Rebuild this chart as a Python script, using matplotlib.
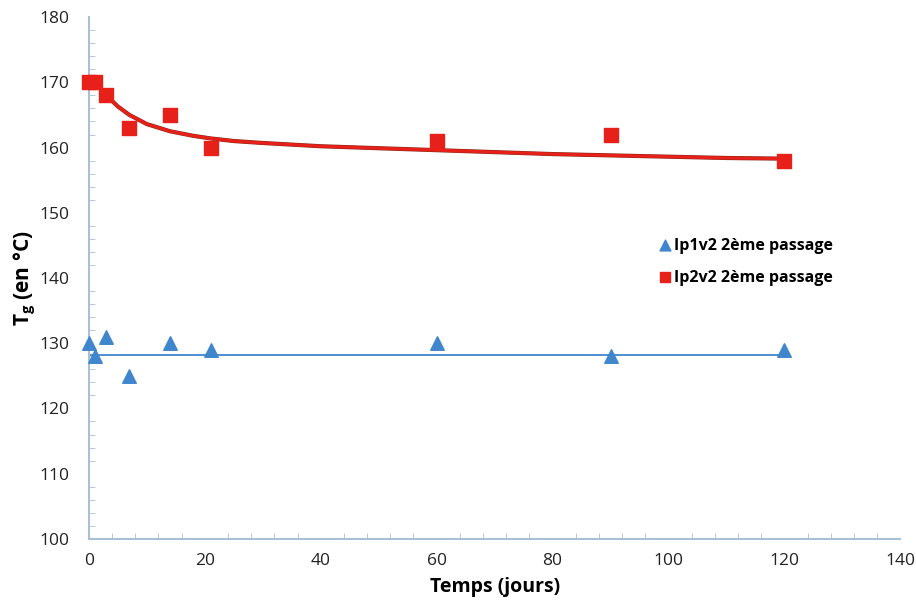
import numpy as np
import matplotlib.pyplot as plt
from matplotlib.ticker import MultipleLocator

# measured points
days = [0, 1, 3, 7, 14, 21, 60, 90, 120]
tg_ip1v2 = [130, 128, 131, 125, 130, 129, 130, 128, 129]
tg_ip2v2 = [170, 170, 168, 163, 165, 160, 161, 162, 158]

# trend lines
trend1_x = [0, 120]
trend1_y = [128.2, 128.2]
trend2_x = [1, 2, 3, 5, 7, 10, 14, 18, 21, 25, 30, 40, 50, 60, 70, 80, 90, 100, 110, 120]
trend2_y = [170.0, 169.0, 168.0, 166.3, 165.0, 163.6, 162.5, 161.8, 161.4, 161.0, 160.7,
            160.2, 159.9, 159.6, 159.3, 159.0, 158.8, 158.6, 158.4, 158.3]

labels = ['Ip1v2 2ème passage', 'Ip2v2 2ème passage']

plt.rcParams['font.family'] = ['Open Sans', 'DejaVu Sans']
plt.rcParams['mathtext.fontset'] = 'custom'
plt.rcParams['mathtext.rm'] = 'Open Sans:bold'
plt.rcParams['mathtext.bf'] = 'Open Sans:bold'

axis_col = '#a9bfd3'
blue = '#3f86cc'
red = '#e8201a'

fig = plt.figure(figsize=(9.16, 6.11), dpi=100)
ax = fig.add_axes([0.097, 0.118, 0.886, 0.854])

ax.plot(trend1_x, trend1_y, color=blue, lw=1.3, zorder=2)
ax.plot(trend2_x, trend2_y, color='#8a2a18', lw=3.0, zorder=2, solid_capstyle='round')
ax.plot(trend2_x, trend2_y, color=red, lw=2.2, zorder=3, solid_capstyle='round')

ax.scatter(days, tg_ip1v2, marker='^', s=95, color=blue, label=labels[0],
           zorder=4, clip_on=False)
ax.scatter(days, tg_ip2v2, marker='s', s=95, color=red, label=labels[1],
           zorder=4, clip_on=False)

ax.set_xlim(0, 140)
ax.set_ylim(100, 180)
ax.xaxis.set_major_locator(MultipleLocator(20))
ax.xaxis.set_minor_locator(MultipleLocator(4))
ax.yaxis.set_major_locator(MultipleLocator(10))
ax.yaxis.set_minor_locator(MultipleLocator(2))

for s in ['top', 'right']:
    ax.spines[s].set_visible(False)
for s in ['left', 'bottom']:
    ax.spines[s].set_color(axis_col)
    ax.spines[s].set_linewidth(1.5)

ax.tick_params(which='major', direction='in', length=0, colors=axis_col,
               labelcolor='#222222', labelsize=12.5)
ax.tick_params(which='minor', direction='in', length=4, colors=axis_col)
ax.tick_params(axis='x', pad=10)
ax.tick_params(axis='y', pad=14)

ax.set_xlabel('Temps (jours)', fontsize=14, fontweight='bold', labelpad=6)
ax.set_ylabel(r'T$_\mathrm{g}$ (en °C)', fontsize=15, fontweight='bold', labelpad=1)

ax.legend(loc='upper left', bbox_to_anchor=(0.68, 0.605), frameon=False,
          handletextpad=0.0, labelspacing=1.0, handlelength=1.2,
          prop={'weight': 'bold', 'size': 11.5}, scatterpoints=1, markerscale=0.8)

fig.savefig('out.png', dpi=100)
